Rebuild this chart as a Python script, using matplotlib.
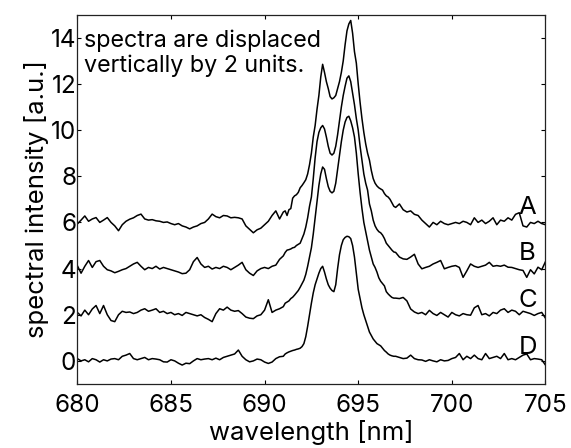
import numpy as np
import matplotlib
matplotlib.use("Agg")
import matplotlib.pyplot as plt

plt.rcParams['font.family'] = ['Inter', 'DejaVu Sans']

# wavelength grid [nm]: coarse on the baselines, fine across the peaks
wl_left = np.linspace(680.0, 690.8, 55)
wl_mid = np.linspace(691.0, 696.9, 60)
wl_right = np.linspace(697.0, 705.0, 41)
wavelength = np.concatenate([wl_left, wl_mid, wl_right])

# spectrum A (offset +6)
A_left = [5.93, 6.10, 6.28, 6.05, 6.15, 6.21, 6.00, 6.10, 6.21, 6.00,
          5.85, 5.64, 5.90, 6.05, 6.14, 6.20, 6.30, 6.36, 6.15, 6.10,
          6.12, 6.07, 6.05, 6.00, 6.02, 5.95, 5.90, 5.95, 5.85, 5.80,
          5.72, 5.80, 5.85, 5.95, 6.00, 6.15, 6.36, 6.25, 6.20, 6.30,
          6.28, 6.20, 6.22, 6.20, 6.15, 5.85, 5.70, 5.55, 5.68, 5.75,
          5.90, 6.05, 6.30, 6.50, 6.15]
A_mid = [6.45, 6.50, 6.30, 6.55, 6.60, 7.05, 7.15, 7.20, 7.30, 7.50,
         7.60, 7.72, 7.85, 8.10, 8.50, 9.00, 9.70, 10.20, 10.90, 11.50,
         12.30, 12.85, 12.50, 12.10, 11.80, 11.45, 11.35, 11.40, 11.50, 11.80,
         12.10, 12.50, 13.00, 13.70, 14.30, 14.60, 14.75, 14.20, 13.40, 12.90,
         12.00, 11.20, 10.50, 9.90, 9.40, 9.00, 8.70, 8.25, 7.90, 7.70,
         7.58, 7.50, 7.45, 7.40, 7.25, 7.15, 7.10, 7.00, 6.85, 6.70]
A_right = [6.65, 6.80, 6.55, 6.45, 6.50, 6.35, 6.30, 6.10, 5.95, 5.80,
           6.00, 5.90, 6.05, 5.95, 5.90, 5.95, 6.00, 5.95, 6.05, 6.00,
           5.90, 6.20, 6.00, 6.10, 5.95, 6.05, 6.20, 5.90, 6.10, 6.05,
           6.20, 6.10, 6.35, 6.42, 5.85, 5.80, 6.00, 5.95, 6.05, 5.95,
           5.90]

# spectrum B (offset +4)
B_left = [4.13, 3.80, 4.10, 4.35, 4.05, 4.30, 4.35, 4.10, 3.95, 3.90,
          3.82, 3.88, 3.95, 4.00, 4.10, 4.20, 4.27, 4.10, 3.95, 4.05,
          4.00, 4.10, 3.98, 4.05, 4.00, 3.95, 3.90, 3.85, 3.78, 3.80,
          3.95, 4.30, 4.48, 4.20, 4.05, 4.10, 3.98, 4.05, 4.00, 4.10,
          4.05, 3.95, 4.05, 4.15, 4.27, 3.95, 3.80, 3.70, 3.90, 4.00,
          4.05, 4.00, 4.10, 4.15, 4.40]
B_mid = [4.55, 4.70, 4.80, 4.82, 4.85, 4.90, 4.92, 5.00, 5.05, 5.10,
         5.30, 5.50, 5.80, 6.20, 6.70, 7.10, 7.90, 8.80, 9.50, 9.90,
         10.10, 10.20, 10.05, 9.70, 9.30, 9.00, 8.92, 9.00, 9.30, 9.80,
         10.40, 11.00, 11.50, 11.90, 12.25, 12.35, 12.10, 11.60, 11.10, 10.50,
         10.00, 9.30, 8.70, 8.10, 7.70, 7.40, 6.80, 6.50, 6.10, 5.85,
         5.70, 5.60, 5.55, 5.45, 5.30, 5.10, 5.00, 4.90, 4.80, 4.72]
B_right = [4.70, 4.50, 4.42, 4.40, 4.50, 4.62, 4.20, 3.99, 4.05, 4.10,
           4.20, 4.27, 4.35, 3.99, 4.05, 4.10, 4.13, 4.05, 3.62, 3.90,
           4.20, 4.10, 4.05, 4.10, 4.15, 4.27, 4.10, 4.13, 4.10, 4.15,
           4.06, 4.05, 4.00, 3.95, 3.92, 3.62, 3.95, 3.77, 4.06, 3.95,
           4.30]

# spectrum C (offset +2)
C_left = [2.10, 1.95, 2.20, 2.00, 2.25, 2.40, 2.05, 2.40, 2.00, 1.75,
          1.70, 2.00, 2.15, 2.10, 2.12, 2.05, 2.10, 2.20, 2.26, 2.15,
          2.20, 2.26, 2.10, 2.15, 2.05, 2.10, 2.00, 2.05, 1.97, 2.10,
          2.05, 2.00, 1.95, 2.00, 1.88, 1.80, 1.70, 2.05, 2.26, 2.20,
          2.33, 2.20, 2.15, 2.18, 2.05, 1.90, 1.85, 1.83, 1.95, 2.00,
          2.20, 2.65, 2.10, 2.20, 2.26]
C_mid = [2.35, 2.50, 2.55, 2.60, 2.70, 2.76, 2.85, 2.95, 3.05, 3.19,
         3.35, 3.50, 3.75, 4.10, 4.50, 4.90, 5.50, 6.20, 6.90, 7.60,
         8.10, 8.40, 8.30, 7.90, 7.55, 7.35, 7.28, 7.35, 7.70, 8.30,
         8.90, 9.50, 10.00, 10.35, 10.55, 10.60, 10.40, 10.10, 9.70, 9.00,
         8.10, 7.30, 6.60, 6.00, 5.60, 5.20, 4.80, 4.50, 4.20, 4.05,
         3.85, 3.60, 3.45, 3.35, 3.25, 3.00, 2.90, 2.82, 2.75, 2.72]
C_right = [2.72, 2.70, 2.75, 2.60, 2.25, 2.12, 2.05, 2.10, 2.00, 2.19,
           2.05, 1.97, 2.10, 2.00, 1.90, 2.10, 2.00, 1.95, 2.05, 2.00,
           1.98, 2.30, 2.40, 2.00, 2.05, 1.95, 2.10, 2.05, 2.20, 2.26,
           2.10, 2.20, 2.15, 2.00, 2.15, 2.10, 2.05, 1.97, 2.05, 2.10,
           1.85]

# spectrum D (no offset)
D_left = [0.10, 0.00, 0.05, -0.04, 0.10, 0.05, -0.05, 0.05, 0.00, 0.08,
          0.10, 0.05, 0.20, 0.25, 0.32, 0.10, 0.05, 0.10, 0.15, 0.05,
          0.10, 0.08, 0.05, -0.04, -0.05, 0.05, 0.00, -0.10, -0.18, -0.10,
          -0.12, 0.00, 0.10, 0.05, 0.08, 0.10, 0.05, 0.12, 0.05, 0.15,
          0.20, 0.25, 0.30, 0.47, 0.20, 0.05, -0.04, 0.00, 0.08, 0.05,
          -0.05, -0.11, -0.05, 0.10, 0.18]
D_mid = [0.20, 0.30, 0.35, 0.39, 0.42, 0.45, 0.47, 0.50, 0.52, 0.55,
         0.62, 0.75, 1.05, 1.50, 2.00, 2.50, 2.95, 3.30, 3.55, 3.80,
         4.00, 4.10, 3.85, 3.55, 3.30, 3.15, 3.05, 3.00, 3.30, 4.00,
         4.60, 5.00, 5.25, 5.35, 5.40, 5.38, 5.30, 5.00, 4.50, 3.80,
         3.10, 2.70, 2.30, 2.00, 1.75, 1.50, 1.25, 1.10, 0.95, 0.85,
         0.75, 0.70, 0.65, 0.55, 0.45, 0.38, 0.30, 0.25, 0.22, 0.20]
D_right = [0.20, 0.15, 0.10, 0.12, 0.25, 0.10, 0.05, 0.04, -0.02, 0.05,
           0.00, -0.04, 0.05, 0.00, 0.02, 0.10, 0.15, 0.32, 0.05, 0.20,
           0.10, 0.25, 0.10, 0.05, 0.32, 0.10, 0.15, 0.20, 0.10, 0.32,
           0.05, 0.10, 0.05, 0.15, 0.25, 0.30, 0.05, 0.10, 0.08, 0.05,
           -0.18]

spectra = {
    'A': A_left + A_mid + A_right,
    'B': B_left + B_mid + B_right,
    'C': C_left + C_mid + C_right,
    'D': D_left + D_mid + D_right,
}
label_y = {'A': 6.38, 'B': 4.36, 'C': 2.33, 'D': 0.32}

x_ticks = [680, 685, 690, 695, 700, 705]
y_ticks = [0, 2, 4, 6, 8, 10, 12, 14]
note = "spectra are displaced\nvertically by 2 units."

fig = plt.figure(figsize=(5.71, 4.48), dpi=100)
ax = fig.add_axes([0.1354, 0.1429, 0.8199, 0.8243])

for name, vals in spectra.items():
    ax.plot(wavelength, vals, color='black', lw=1.1)
    ax.text(703.55, label_y[name], name, fontsize=18.5, ha='left',
            va='baseline', color='black')

ax.set_xlim(680, 705)
ax.set_ylim(-1, 15)
ax.set_xticks(x_ticks)
ax.set_yticks(y_ticks)
ax.tick_params(direction='in', length=3.2, width=0.8, top=True, right=True,
               labelsize=17.5, colors='black')
ax.tick_params(axis='x', pad=7.5)
ax.tick_params(axis='y', pad=0.8)
for s in ax.spines.values():
    s.set_linewidth(0.9)
    s.set_color('#222222')

ax.set_xlabel('wavelength [nm]', fontsize=18.5, labelpad=2)
ax.set_ylabel('spectral intensity [a.u.]', fontsize=18.5, labelpad=1)

ax.text(680.35, 12.53, note, fontsize=16.8, ha='left', va='baseline',
        linespacing=1.15)

fig.savefig('out.png', dpi=100)
